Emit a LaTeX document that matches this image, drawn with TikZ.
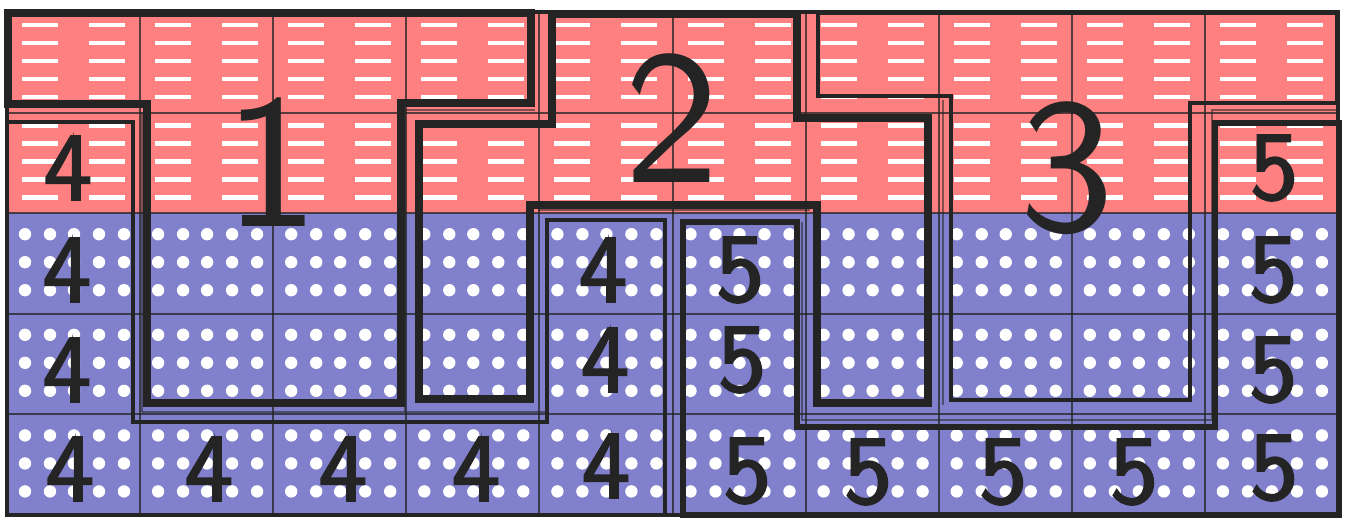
\documentclass[tikz,border=0pt]{standalone}
\usepackage{fontspec}
\newfontfamily\bigdig{lmsans10-regular.otf}
\newfontfamily\smalldig{lmsans10-regular.otf}[FakeBold=2]
\definecolor{cellred}{RGB}{255,128,128}
\definecolor{cellblue}{RGB}{128,128,204}
\definecolor{ink}{RGB}{36,36,36}
\begin{document}
\begin{tikzpicture}[x=1pt,y=-1pt,
  whitedash/.style={draw=white,line width=4.5pt},
  gridline/.style={draw=ink,line width=2pt,opacity=0.75},
  border/.style={draw=ink,line width=3.5pt},
  thickout/.style={draw=ink,line width=8.5pt},
  medout/.style={draw=ink,line width=6pt},
  thinout/.style={draw=ink,line width=4.5pt},
  faint/.style={draw=ink,line width=2.5pt,opacity=0.55},
  bignum/.style={inner sep=0pt,text=ink,font=\bigdig\fontsize{190}{190}\selectfont},
  smallnum/.style={inner sep=0pt,text=ink,font=\smalldig\fontsize{97}{97}\selectfont}]
\useasboundingbox (0,0) rectangle (1351,519);
\fill[white] (0,0) rectangle (1351,519);
% cells
\fill[cellred] (7,12) rectangle (1338,213.2);
\fill[cellblue] (7,213.2) rectangle (1338,515);
\foreach \c in {0,...,9}{
  \foreach \r in {0,1}{
    \foreach \dx in {15,82}{
      \foreach \dy in {13,31,49,67,85}{
        \draw[whitedash] ({7+133.1*\c+\dx},{12+100.6*\r+\dy}) -- ++(36,0);
      }}}}
\foreach \c in {0,...,9}{
  \foreach \r in {2,3,4}{
    \foreach \dx in {18,43,67,92,117}{
      \foreach \dy in {21,49,77}{
        \fill[white] ({7+133.1*\c+\dx},{12+100.6*\r+\dy}) circle[radius=6.2];
      }}}}
% grid
\foreach \c in {1,...,9}{\draw[gridline] ({7+133.1*\c},12) -- ({7+133.1*\c},515);}
\foreach \r in {1,...,4}{\draw[gridline] (7,{12+100.6*\r}) -- (1338,{12+100.6*\r});}
\draw[border] (7,12) rectangle (1338,515);
% faint second outlines
\draw[faint] (405,110) -- (535,110);
\draw[faint] (405,110) -- (405,412);
\draw[faint] (142,412) -- (547,412);
\draw[faint] (142,112) -- (142,412);
\draw[faint] (802,222) -- (802,420) -- (1212,420) -- (1212,110) -- (1338,110);
\draw[faint] (943,100) -- (943,405);
\draw[faint] (538,210) -- (810,210);
% regions
\draw[thickout] (8,13) -- (531,13) -- (531,103) -- (401,103) -- (401,403) -- (147,403) -- (147,104) -- (8,104) -- cycle;
\draw[thickout] (552,14) -- (797,14) -- (797,118) -- (928,118) -- (928,403) -- (817,403) -- (817,205) -- (530,205) -- (530,399) -- (419,399) -- (419,124) -- (552,124) -- cycle;
\draw[thinout] (818,13) -- (1337,13) -- (1337,103) -- (1190,103) -- (1190,400) -- (951,400) -- (951,96) -- (818,96) -- cycle;
\draw[thinout] (7,122) -- (133,122) -- (133,422) -- (547,422) -- (547,220) -- (665,220) -- (665,515) -- (7,515) -- cycle;
\draw[medout] (1215,123) -- (1339,123) -- (1339,515) -- (683,515) -- (683,222) -- (797,222) -- (797,427) -- (1215,427) -- cycle;
% labels
\node[bignum] (n1) at (272,162) {1};
\node[bignum] (n2) at (672,118) {2};
\node[bignum] (n3) at (1067,168) {3};
\node[smallnum] (a1) at (68,168) {4};
\node[smallnum] (a2) at (67,270) {4};
\node[smallnum] (a3) at (67,370) {4};
\node[smallnum] (a4) at (70,469) {4};
\node[smallnum] (a5) at (209,469) {4};
\node[smallnum] (a6) at (343,469) {4};
\node[smallnum] (a7) at (476,469) {4};
\node[smallnum] (a8) at (606,466) {4};
\node[smallnum] (a9) at (603,270) {4};
\node[smallnum] (a10) at (605,360) {4};
\node[smallnum] (b1) at (740,270) {5};
\node[smallnum] (b2) at (742,360) {5};
\node[smallnum] (b3) at (747,471) {5};
\node[smallnum] (b4) at (868,472) {5};
\node[smallnum] (b5) at (1003,472) {5};
\node[smallnum] (b6) at (1134,472) {5};
\node[smallnum] (b7) at (1274,468) {5};
\node[smallnum] (b8) at (1273,370) {5};
\node[smallnum] (b9) at (1273,270) {5};
\node[smallnum] (b10) at (1274,168) {5};
\end{tikzpicture}
\end{document}
